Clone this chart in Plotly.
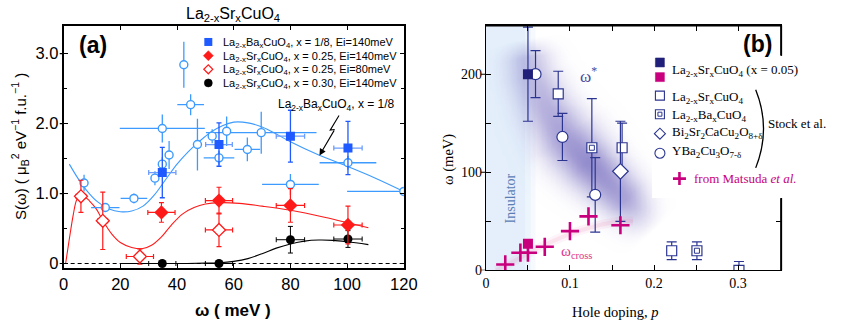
import numpy as np
import plotly.graph_objects as go

W, H = 844, 333

# ---------------- panel (a): S(omega) ----------------
lbco_w = [34.8, 54.8, 80.0, 100.3]
lbco_s = [1.30, 1.70, 1.82, 1.65]
lbco_dw = [4.8, 4.7, 5.0, 5.0]
lbco_ds = [0.36, 0.31, 0.37, 0.38]

lsco25_w = [34.5, 54.8, 80.0, 100.3]
lsco25_s = [0.73, 0.90, 0.83, 0.55]
lsco25_dw = [4.8, 4.8, 5.0, 5.0]
lsco25_ds = [0.14, 0.19, 0.24, 0.27]

lsco25lo_w = [6.1, 13.8, 26.9, 54.8]
lsco25lo_s = [0.96, 0.61, 0.10, 0.48]
lsco25lo_dw = [1.7, 1.7, 4.8, 4.8]
lsco25lo_ds = [0.23, 0.41, 0.11, 0.24]

lsco30_w = [34.8, 54.8, 80.0, 100.3]
lsco30_s = [0.0, 0.0, 0.34, 0.35]
lsco30_dw = [4.8, 4.8, 5.0, 5.0]
lsco30_ds = [0.0, 0.0, 0.19, 0.12]

lbco_b_w = [7.2, 14.7, 24.8, 32.2, 34.8, 37.2, 34.8, 42.4, 44.8, 47.2, 52.4, 54.8, 57.5, 64.8, 69.7, 80.0, 100.3, 120.0]
lbco_b_s = [1.15, 0.80, 0.93, 1.22, 1.42, 1.55, 1.93, 2.84, 2.27, 1.70, 1.82, 1.51, 1.89, 1.63, 1.87, 1.13, 1.44, 1.03]
lbco_b_dw_hi = [0, 5.0, 4.7, 0, 0, 0, 15.0, 0, 4.7, 0, 0, 5.4, 0, 4.5, 19.5, 10.0, 10.0, 0]
lbco_b_dw_lo = [0, 5.0, 4.7, 0, 0, 0, 15.0, 0, 4.7, 0, 0, 5.4, 0, 4.5, 19.5, 10.0, 10.0, 20.0]
lbco_b_ds = [0.12, 0.05, 0.07, 0.10, 0.10, 0.20, 0.20, 0.33, 0.15, 0.37, 0.10, 0.10, 0.21, 0.17, 0.30, 0.15, 0.10, 0.05]

blue_fit_w = [2, 5, 8, 12, 16, 20, 24, 28, 32, 36, 40, 44, 48, 52, 56, 60, 65, 70, 75, 80, 90, 100, 110, 120]
blue_fit_s = [1.42, 1.22, 1.05, 0.88, 0.78, 0.74, 0.75, 0.82, 0.98, 1.20, 1.42, 1.60, 1.75, 1.88, 1.97, 2.02, 2.01, 1.95, 1.85, 1.74, 1.55, 1.39, 1.22, 1.03]
red_fit_w = [0.7, 2, 3.4, 4.5, 5.7, 7, 9, 11.5, 14, 17, 20, 24, 27.6, 31, 34.5, 38, 42, 46, 50, 55, 62, 70, 80, 92, 107.5]
red_fit_s = [0.0, 0.35, 0.70, 0.90, 0.98, 0.97, 0.90, 0.78, 0.60, 0.42, 0.30, 0.23, 0.21, 0.26, 0.38, 0.55, 0.71, 0.80, 0.85, 0.87, 0.86, 0.82, 0.76, 0.66, 0.51]
black_fit_w = [20.7, 30, 40, 50, 55, 60, 65, 70, 75, 80, 85, 90, 95, 100, 107.5]
black_fit_s = [0.0, 0.0, 0.0, 0.005, 0.01, 0.03, 0.07, 0.14, 0.22, 0.28, 0.32, 0.335, 0.33, 0.31, 0.27]

a_xticks = [0, 20, 40, 60, 80, 100, 120]
a_yticks = [0, 1, 2, 3]
a_yticktext = ["0", "1.0", "2.0", "3.0"]

# ---------------- panel (b): omega vs hole doping ----------------
lsco05_p = [0.050]
lsco05_w = [200]
lsco05_dw = [48]
lsco05_cross_p = [0.050]
lsco05_cross_w = [27]

stock_lsco_p = [0.086, 0.162, 0.221, 0.301]
stock_lsco_w = [180, 125, 20, 0]
stock_lsco_dw = [23, 25, 9, 9]
stock_lbco_p = [0.126, 0.251]
stock_lbco_w = [125, 20]
stock_lbco_dw = [50, 9]
stock_bi_p = [0.160]
stock_bi_w = [101]
stock_bi_dw = [51]
stock_ybco_p = [0.059, 0.091, 0.130]
stock_ybco_w = [200, 136, 77]
stock_ybco_dw = [24, 24, 38]

matsuda_p = [0.023, 0.041, 0.050, 0.070, 0.100, 0.122, 0.160]
matsuda_w = [6, 18, 18, 24, 40, 55, 46]

# guides drawn behind the points
star_band_p = [0.046, 0.055, 0.073, 0.093, 0.126, 0.160, 0.185, 0.198]
star_band_w = [236, 198, 164, 136, 106, 77, 52, 40]
cross_guide_p = [0.012, 0.030, 0.050, 0.075, 0.100, 0.130, 0.160, 0.175]
cross_guide_w = [0, 8, 17, 28, 37, 45, 50, 50]

b_xticks = [0, 0.1, 0.2, 0.3]
b_xticktext = ["0", "0.1", "0.2", "0.3"]
b_xminor = [0.05, 0.15, 0.25]
b_yticks = [0, 100, 200]
b_yminor = [50, 150]

# ---------------- colours ----------------
BLUE = "#1e5aff"
BLUE_LT = "#6d9dff"
SKY = "#3d9bff"
RED = "#ff1a1a"
NAVY = "#2b3590"
NAVY_FILL = "#20207a"
MAG = "#c8007e"
SANS = "Liberation Sans, Arial, sans-serif"
SERIF = "Liberation Serif, Times New Roman, serif"

# pixel geometry of the two panels
A_L, A_R, A_T, A_B = 60, 408, 27, 275
B_L, B_R, B_T, B_B = 492, 794, 26, 277
KEY_BOX = (662, 57, 840, 203)        # white backing behind the (b) key
a_y0px, a_ypx = 270, 71.7           # y=0 row and px per unit
b_xpx, b_ypx = 860.0, 1.005          # px per unit doping / meV
A_YR = [-(A_B - a_y0px) / a_ypx, (a_y0px - A_T) / a_ypx]
B_XR = [0, (B_R - B_L) / b_xpx]
B_YR = [0, (B_B - B_T) / b_ypx]


def px_x(px):
    return px / W


def px_y(py):
    return 1 - py / H


fig = go.Figure()

# ---- panel (b) background: purple omega* band ----
gp = np.linspace(0.005, 0.30, 150)
gw = np.linspace(5, 245, 121)
GP, GW = np.meshgrid(gp, gw)
U, V = GP * b_xpx, GW * b_ypx
cu = np.array(star_band_p) * b_xpx
cv = np.array(star_band_w) * b_ypx
seg = np.hypot(np.diff(cu), np.diff(cv))
cum = np.concatenate([[0], np.cumsum(seg)])
ss = np.linspace(0, cum[-1], 400)
du = np.interp(ss, cum, cu)
dv = np.interp(ss, cum, cv)
frac = ss / cum[-1]
dist = np.full(U.shape, np.inf)
fnear = np.zeros(U.shape)
for k in range(len(ss)):
    d = np.hypot(U - du[k], V - dv[k])
    m = d < dist
    dist[m] = d[m]
    fnear[m] = frac[k]
along = np.interp(fnear, [0, 0.08, 0.35, 0.6, 0.82, 1.0], [0.0, 0.5, 0.72, 1.0, 0.8, 0.0])
sig = np.interp(fnear, [0, 0.5, 1.0], [15, 20, 14])
band_z = along * np.exp(-dist ** 2 / (2 * sig ** 2))

fig.add_trace(go.Heatmap(
    x=gp, y=gw, z=band_z, xaxis="x2", yaxis="y2", zmin=0, zmax=1, zsmooth="best",
    colorscale=[[0, "rgba(105,95,185,0)"], [1, "rgba(105,95,185,0.72)"]],
    showscale=False, hoverinfo="skip"))

for wdt, alp in [(9, 0.07), (4, 0.10)]:
    fig.add_trace(go.Scatter(
        x=cross_guide_p, y=cross_guide_w, xaxis="x2", yaxis="y2", mode="lines",
        line=dict(color=f"rgba(225,90,150,{alp})", width=wdt, shape="spline"),
        hoverinfo="skip", showlegend=False))

# ---- panel (a) traces ----
for xs, ys, col in [(blue_fit_w, blue_fit_s, SKY), (red_fit_w, red_fit_s, RED),
                    (black_fit_w, black_fit_s, "black")]:
    fig.add_trace(go.Scatter(x=xs, y=ys, mode="lines", line=dict(color=col, width=1.1, shape="spline"),
                             showlegend=False, hoverinfo="skip"))

fig.add_trace(go.Scatter(
    x=lbco_b_w, y=lbco_b_s, mode="markers",
    marker=dict(symbol="circle", size=8, color="white", line=dict(color=SKY, width=1.4)),
    error_x=dict(type="data", array=lbco_b_dw_hi, arrayminus=lbco_b_dw_lo, color=SKY, thickness=1.3, width=0),
    error_y=dict(type="data", array=lbco_b_ds, color=SKY, thickness=1.3, width=0),
    showlegend=False))

fig.add_trace(go.Scatter(
    x=lsco30_w, y=lsco30_s, mode="markers",
    marker=dict(symbol="circle", size=9, color="black"),
    error_x=dict(type="data", array=lsco30_dw, color="black", thickness=1, width=2.5),
    error_y=dict(type="data", array=lsco30_ds, color="black", thickness=1, width=2.5),
    showlegend=False))

fig.add_trace(go.Scatter(
    x=lsco25lo_w, y=lsco25lo_s, mode="markers",
    marker=dict(symbol="diamond", size=10, color="white", line=dict(color=RED, width=1.3)),
    error_x=dict(type="data", array=lsco25lo_dw, color=RED, thickness=1.2, width=2.5),
    error_y=dict(type="data", array=lsco25lo_ds, color=RED, thickness=1.2, width=2.5),
    showlegend=False))

fig.add_trace(go.Scatter(
    x=lsco25_w, y=lsco25_s, mode="markers",
    marker=dict(symbol="diamond", size=11, color=RED),
    error_x=dict(type="data", array=lsco25_dw, color=RED, thickness=1.2, width=2.5),
    error_y=dict(type="data", array=lsco25_ds, color=RED, thickness=1.2, width=2.5),
    showlegend=False))

fig.add_trace(go.Scatter(
    x=lbco_w, y=lbco_s, mode="markers",
    marker=dict(symbol="square", size=9, color=BLUE),
    error_x=dict(type="data", array=lbco_dw, color=BLUE_LT, thickness=1.3, width=2.5),
    error_y=dict(type="data", array=lbco_ds, color=BLUE, thickness=1.3, width=2.5),
    showlegend=False))

# ---- panel (b) traces ----
ebar_b = dict(color=NAVY, thickness=1.2, width=5)


def b_points(xs, ys, dys, marker):
    fig.add_trace(go.Scatter(
        x=xs, y=ys, xaxis="x2", yaxis="y2", mode="markers", marker=marker,
        error_y=dict(type="data", array=dys, **ebar_b), showlegend=False))


b_points(stock_lsco_p, stock_lsco_w, stock_lsco_dw,
         dict(symbol="square", size=10, color="white", line=dict(color=NAVY, width=1.2)))
b_points(stock_lbco_p, stock_lbco_w, stock_lbco_dw,
         dict(symbol="square", size=10, color="white", line=dict(color=NAVY, width=1.2)))
fig.add_trace(go.Scatter(x=stock_lbco_p, y=stock_lbco_w, xaxis="x2", yaxis="y2", mode="markers",
                         marker=dict(symbol="square-open", size=5, color=NAVY, line=dict(width=1)),
                         showlegend=False, hoverinfo="skip"))
b_points(stock_bi_p, stock_bi_w, stock_bi_dw,
         dict(symbol="diamond", size=12, color="white", line=dict(color=NAVY, width=1.2)))
b_points(stock_ybco_p, stock_ybco_w, stock_ybco_dw,
         dict(symbol="circle", size=11, color="white", line=dict(color=NAVY, width=1.2)))
b_points(lsco05_p, lsco05_w, lsco05_dw, dict(symbol="square", size=10, color=NAVY_FILL))
fig.add_trace(go.Scatter(x=matsuda_p, y=matsuda_w, xaxis="x2", yaxis="y2", mode="markers",
                         marker=dict(symbol="cross-thin", size=13, line=dict(color=MAG, width=2.6)),
                         showlegend=False))
fig.add_trace(go.Scatter(x=lsco05_cross_p, y=lsco05_cross_w, xaxis="x2", yaxis="y2", mode="markers",
                         marker=dict(symbol="square", size=10, color=MAG), showlegend=False))

# ---------------- axes ----------------
common = dict(showgrid=False, zeroline=False, showline=True, linecolor="black", mirror="ticks",
              ticks="inside", tickcolor="black")

fig.update_layout(
    width=W, height=H, margin=dict(l=0, r=0, t=0, b=0),
    paper_bgcolor="white", plot_bgcolor="rgba(0,0,0,0)", showlegend=False,
    xaxis=dict(domain=[px_x(A_L), px_x(A_R)], range=[0, 120], anchor="y",
               tickvals=a_xticks, ticklen=4, linewidth=2, tickwidth=1.2,
               tickfont=dict(family=SANS, size=16.5, color="black"), **common),
    yaxis=dict(domain=[px_y(A_B), px_y(A_T)], range=A_YR, anchor="x",
               tickvals=a_yticks, ticktext=a_yticktext, ticklen=4, linewidth=2, tickwidth=1.2,
               minor=dict(tickvals=[0.5, 1.5, 2.5], ticks="inside", ticklen=3, tickcolor="black"),
               tickfont=dict(family=SANS, size=16.5, color="black"), **common),
    xaxis2=dict(domain=[px_x(B_L), px_x(B_R)], range=B_XR, anchor="y2",
                tickvals=b_xticks, ticktext=b_xticktext, ticklen=5, linewidth=1.4, tickwidth=1.1,
                minor=dict(tickvals=b_xminor, ticks="inside", ticklen=5, tickcolor="black"),
                tickfont=dict(family=SERIF, size=14, color="black"), **common),
    yaxis2=dict(domain=[px_y(B_B), px_y(B_T)], range=B_YR, anchor="x2",
                tickvals=b_yticks, ticklen=5, linewidth=1.4, tickwidth=1.1,
                minor=dict(tickvals=b_yminor, ticks="inside", ticklen=5, tickcolor="black"),
                tickfont=dict(family=SERIF, size=14, color="black"), **common),
)

# ---------------- shapes ----------------
shapes = []
# insulating region in (b)
for x0, x1, alp in [(0, 0.047, 0.55), (0.047, 0.053, 0.38), (0.053, 0.059, 0.18)]:
    shapes.append(dict(type="rect", xref="x2", yref="y2", x0=x0, x1=x1, y0=B_YR[0], y1=B_YR[1],
                       fillcolor=f"rgba(205,226,248,{alp})", line=dict(width=0), layer="below"))
# white backing of the (b) key, which interrupts the right-hand frame
shapes.append(dict(type="rect", xref="paper", yref="paper", x0=px_x(KEY_BOX[0]), x1=px_x(KEY_BOX[2]),
                   y0=px_y(KEY_BOX[3]), y1=px_y(KEY_BOX[1]), line=dict(width=0),
                   fillcolor="white", layer="above"))
# outer half of the labelled ticks on the left axes
for v in a_yticks:
    shapes.append(dict(type="line", xref="paper", yref="y", x0=px_x(A_L - 4), x1=px_x(A_L), y0=v, y1=v,
                       line=dict(color="black", width=1.2), layer="above"))
for v in b_yticks:
    shapes.append(dict(type="line", xref="paper", yref="y2", x0=px_x(B_L - 5), x1=px_x(B_L), y0=v, y1=v,
                       line=dict(color="black", width=1.1), layer="above"))
# dashed zero line in (a)
shapes.append(dict(type="line", xref="x", yref="y", x0=0, x1=120, y0=0, y1=0,
                   line=dict(color="black", width=1, dash="4px,3px"), layer="above"))

# lightning pointer in (a)
zig = [(341.7, 118.3), (332.7, 133.3), (337.3, 132.7)]
zpath = "M " + " L ".join(f"{px_x(x):.5f},{px_y(y):.5f}" for x, y in zig)
shapes.append(dict(type="path", xref="paper", yref="paper", path=zpath,
                   line=dict(color="black", width=1.1), layer="above"))


def key(kind, cx, cy, s, line_color, fill, lw=1.2):
    base = dict(xref="paper", yref="paper", xsizemode="pixel", ysizemode="pixel",
                xanchor=px_x(cx), yanchor=px_y(cy), line=dict(color=line_color, width=lw),
                fillcolor=fill, layer="above")
    h = s / 2
    if kind == "square":
        base.update(type="rect", x0=-h, x1=h, y0=-h, y1=h)
    elif kind == "circle":
        base.update(type="circle", x0=-h, x1=h, y0=-h, y1=h)
    elif kind == "diamond":
        base.update(type="path", path=f"M {-h},0 L 0,{h} L {h},0 L 0,{-h} Z")
    elif kind == "cross":
        base.update(type="path", path=f"M {-h},0 L {h},0 M 0,{-h} L 0,{h}")
        base.pop("fillcolor")
    shapes.append(base)


# legend keys, panel (a)
key("square", 208, 43, 8, BLUE, BLUE, 0)
key("diamond", 208, 57, 10, RED, RED, 0.5)
key("diamond", 208, 71, 9, RED, "white", 1.2)
key("circle", 208, 85, 8, "black", "black", 0.5)
# legend keys, panel (b)
key("square", 670, 64, 9, NAVY_FILL, NAVY_FILL, 0.5)
key("square", 670, 79, 9, MAG, MAG, 0.5)
key("square", 670, 98, 9, NAVY, "white", 1.1)
key("square", 670, 117, 9, NAVY, "white", 1.1)
key("square", 670, 117, 4, NAVY, "white", 1.0)
key("diamond", 670, 137, 11, NAVY, "white", 1.1)
key("circle", 670, 157, 10, NAVY, "white", 1.1)
key("cross", 690, 183, 13, MAG, None, 2.6)

# bracket grouping the Stock et al. entries
bx0, by0, by1 = 768, 92, 172
shapes.append(dict(type="path", xref="paper", yref="paper",
                   path=f"M {px_x(bx0):.5f},{px_y(by0):.5f} Q {px_x(bx0 + 16):.5f},{px_y((by0 + by1) / 2):.5f} {px_x(bx0):.5f},{px_y(by1):.5f}",
                   line=dict(color="black", width=1.3), layer="above"))

# panel (b) frame: top edge, and the right edge broken by the key
FRAME = dict(color="black", width=2)
shapes.append(dict(type="line", xref="paper", yref="paper", x0=px_x(B_L), x1=px_x(B_R),
                   y0=px_y(B_T), y1=px_y(B_T), line=FRAME, layer="above"))
shapes.append(dict(type="line", xref="paper", yref="paper", x0=px_x(B_R), x1=px_x(B_R),
                   y0=px_y(B_T), y1=px_y(KEY_BOX[1]), line=FRAME, layer="above"))
shapes.append(dict(type="line", xref="paper", yref="paper", x0=px_x(B_R), x1=px_x(B_R),
                   y0=px_y(KEY_BOX[3]), y1=px_y(B_B), line=FRAME, layer="above"))
fig.update_layout(shapes=shapes)

# ---------------- text ----------------
ann = []


def txt(text, cx, cy, size, family=SANS, color="black", xanchor="center", angle=0, **kw):
    ann.append(dict(text=text, x=px_x(cx), y=px_y(cy), xref="paper", yref="paper", showarrow=False,
                    xanchor=xanchor, yanchor="middle", textangle=angle,
                    font=dict(family=family, size=size, color=color), **kw))


txt("La<sub>2-x</sub>Sr<sub>x</sub>CuO<sub>4</sub>", 233, 15, 16)
txt("<b>(a)</b>", 90, 46, 23)
txt("<b>(b)</b>", 770, 45, 23)
txt("S(ω) ( μ<sub>B</sub><sup>2</sup> eV<sup>−1</sup> f.u.<sup>−1</sup> )", 15, 150, 15, angle=-90)
txt("<b>ω ( meV )</b>", 233, 318, 17)
txt("ω (meV)", 453, 163, 14.5, family=SERIF, angle=-90)
txt("Hole doping, <i>p</i>", 625, 320, 14.5, family=SERIF)

a_leg = ["La<sub>2-x</sub>Ba<sub>x</sub>CuO<sub>4</sub>, x = 1/8, Ei=140meV",
         "La<sub>2-x</sub>Sr<sub>x</sub>CuO<sub>4</sub>, x = 0.25, Ei=140meV",
         "La<sub>2-x</sub>Sr<sub>x</sub>CuO<sub>4</sub>, x = 0.25, Ei=80meV",
         "La<sub>2-x</sub>Sr<sub>x</sub>CuO<sub>4</sub>, x = 0.30, Ei=140meV"]
for i, t in enumerate(a_leg):
    txt(t, 221, 44 + 14 * i, 11, xanchor="left")

txt("La<sub>2-x</sub>Ba<sub>x</sub>CuO<sub>4</sub>, x = 1/8", 339, 108, 12)

b_leg = [("La<sub>2-x</sub>Sr<sub>x</sub>CuO<sub>4</sub> (x = 0.05)", 72),
         ("La<sub>2-x</sub>Sr<sub>x</sub>CuO<sub>4</sub>", 100),
         ("La<sub>2-x</sub>Ba<sub>x</sub>CuO<sub>4</sub>", 118),
         ("Bi<sub>2</sub>Sr<sub>2</sub>CaCu<sub>2</sub>O<sub>8+δ</sub>", 136),
         ("YBa<sub>2</sub>Cu<sub>3</sub>O<sub>7-δ</sub>", 155)]
for t, y in b_leg:
    txt(t, 680, y, 13, family=SERIF, xanchor="left")
txt("Stock et al.", 810, 127, 13, family=SERIF)
txt("from Matsuda <i>et al.</i>", 703, 183, 13, family=SERIF, color=MAG, xanchor="left")

txt("Insulator", 517, 203, 14, family=SERIF, color="#5b7db5", angle=-90)
txt("ω<sup>*</sup>", 597, 77, 17, family=SERIF, color="#4b4ba0")
txt("ω<sub>cross</sub>", 585, 258, 15, family=SERIF, color="#e0338a")

# arrow head of the lightning pointer
ann.append(dict(x=px_x(321.7), y=px_y(159.3), xref="paper", yref="paper", ax=15.6, ay=-26.6,
                axref="pixel", ayref="pixel", showarrow=True, arrowhead=2, arrowsize=1.2,
                arrowwidth=1.1, arrowcolor="black", text=""))

fig.update_layout(annotations=ann)
fig.write_html("out.html")
